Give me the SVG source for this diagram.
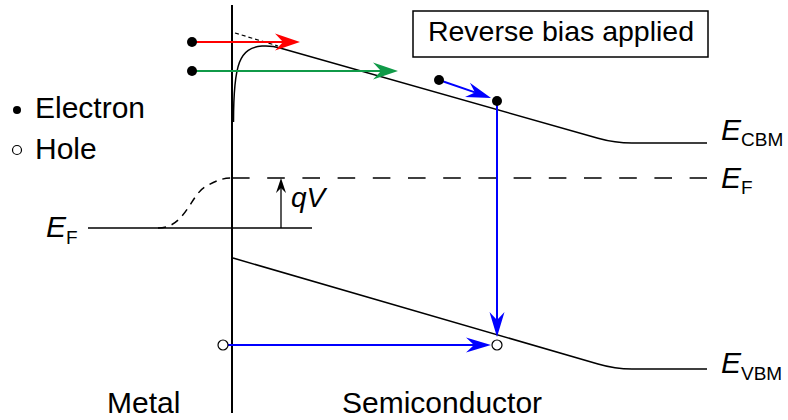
<svg xmlns="http://www.w3.org/2000/svg" width="788" height="420" viewBox="0 0 788 420">
<style>
text{font-family:"Liberation Sans",Arial,sans-serif;fill:#000}
.t{font-size:30px}
.E{font-size:30px;font-style:italic}
.s{font-size:19px;font-style:normal}
.band{fill:none;stroke:#000;stroke-width:1.5}
.el{fill:#000}
.ho{fill:#fff;stroke:#000;stroke-width:1.2}
</style>
<defs>
<marker id="ar" markerUnits="userSpaceOnUse" viewBox="0 -9 25 18" refX="8" refY="0" markerWidth="25" markerHeight="18" orient="auto"><path d="M25,0 L0,-8.5 L8,0 L0,8.5 Z" fill="#ff0000"/></marker>
<marker id="ag" markerUnits="userSpaceOnUse" viewBox="0 -9 25 18" refX="8" refY="0" markerWidth="25" markerHeight="18" orient="auto"><path d="M25,0 L0,-8.5 L8,0 L0,8.5 Z" fill="#109a48"/></marker>
<marker id="ab" markerUnits="userSpaceOnUse" viewBox="0 -9 25 18" refX="8" refY="0" markerWidth="25" markerHeight="18" orient="auto"><path d="M25,0 L0,-7.5 L8,0 L0,7.5 Z" fill="#0000ff"/></marker>
<marker id="ak" markerUnits="userSpaceOnUse" viewBox="0 -6 15 12" refX="5" refY="0" markerWidth="15" markerHeight="12" orient="auto"><path d="M15,0 L0,-5 L5,0 L0,5 Z" fill="#000"/></marker>
</defs>

<g id="interface"><line x1="232" y1="5" x2="232" y2="413" stroke="#000" stroke-width="2"/></g>

<g id="cbm"><path class="band" d="M233.5,122 C233.5,62 240,48 262,46 C270,45.5 274,46 280,48 L598,138.2 Q615,143 632,143 L707,143"/>
<path d="M235,33 L278,46" fill="none" stroke="#000" stroke-width="1.2" stroke-dasharray="4,3"/></g>

<g id="vbm"><path class="band" d="M233,258 L598,364 Q615,369 632,369 L707,369"/></g>

<g id="fermi"><path d="M232,178 L707,178" fill="none" stroke="#000" stroke-width="1.5" stroke-dasharray="17.6,17.6"/>
<path d="M158,228 C185,228 190,196 205,187 C215,181 222,178 232,178" fill="none" stroke="#000" stroke-width="1.5" stroke-dasharray="8,6"/>
<path class="band" d="M88,228 L312,228"/></g>

<g id="box"><rect x="413" y="11" width="295" height="46" fill="#fff" stroke="#000" stroke-width="1.5"/>
<text class="t" x="561" y="41" text-anchor="middle" style="font-size:28.5px">Reverse bias applied</text></g>

<g id="connectors">
<line x1="192" y1="42" x2="283" y2="42" stroke="#ff0000" stroke-width="2" marker-end="url(#ar)"/>
<line x1="192" y1="71" x2="381" y2="71" stroke="#109a48" stroke-width="2" marker-end="url(#ag)"/>
<line x1="439" y1="80" x2="475" y2="92.4" stroke="#0000ff" stroke-width="2" marker-end="url(#ab)"/>
<line x1="497" y1="101" x2="497" y2="320" stroke="#0000ff" stroke-width="2" marker-end="url(#ab)"/>
<line x1="228" y1="345" x2="474" y2="345" stroke="#0000ff" stroke-width="2" marker-end="url(#ab)"/>
<line x1="281" y1="228" x2="281" y2="188" stroke="#000" stroke-width="1.3" marker-end="url(#ak)"/>
</g>

<g id="particles">
<circle class="el" cx="192" cy="42" r="5"/>
<circle class="el" cx="192" cy="71" r="5"/>
<circle class="el" cx="439" cy="80" r="5"/>
<circle class="el" cx="497" cy="101" r="5"/>
<circle class="ho" cx="223" cy="345" r="5"/>
<circle class="ho" cx="497" cy="345" r="5"/>
</g>

<g id="legend">
<circle class="el" cx="17" cy="110" r="4"/>
<text class="t" x="35" y="118">Electron</text>
<circle class="ho" cx="17" cy="150" r="4.5"/>
<text class="t" x="35" y="159">Hole</text>
</g>

<g id="labels">
<text class="t" x="107" y="413">Metal</text>
<text class="t" x="342" y="413">Semiconductor</text>
<text class="E" x="291" y="207" style="font-size:28px">qV</text>
<text class="E" x="46" y="237">E<tspan class="s" dy="7">F</tspan></text>
<text class="E" x="721" y="140">E<tspan class="s" dy="6">CBM</tspan></text>
<text class="E" x="721" y="188">E<tspan class="s" dy="6">F</tspan></text>
<text class="E" x="721" y="373">E<tspan class="s" dy="7">VBM</tspan></text>
</g>
</svg>
